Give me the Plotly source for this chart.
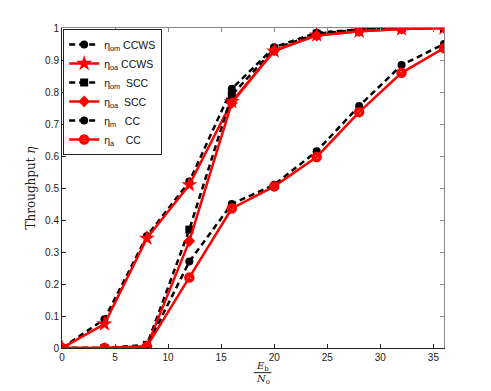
import plotly.graph_objects as go

snr = [0, 4, 8, 12, 16, 20, 24, 28, 32, 36]

ccws_om = [0, 0.09, 0.35, 0.52, 0.81, 0.94, 0.985, 0.995, 1.0, 1.0]
ccws_oa = [0, 0.075, 0.343, 0.51, 0.77, 0.928, 0.978, 0.99, 0.997, 1.0]
scc_om = [0, 0, 0.01, 0.37, 0.79, 0.935, 0.982, 0.995, 1.0, 1.0]
scc_oa = [0, 0, 0.005, 0.334, 0.766, 0.93, 0.976, 0.99, 0.997, 1.0]
cc_m = [0, 0, 0.005, 0.27, 0.45, 0.51, 0.615, 0.756, 0.884, 0.95]
cc_a = [0, 0, 0.005, 0.22, 0.436, 0.505, 0.597, 0.737, 0.86, 0.937]

names = [
    "η<sub>om</sub> CCWS",
    "η<sub>oa</sub> CCWS",
    "η<sub>om</sub>  SCC",
    "η<sub>oa</sub>  SCC",
    "η<sub>m</sub>   CC",
    "η<sub>a</sub>    CC",
]

BLACK = "#000000"
RED = "#ff0000"

styles = [
    (ccws_om, BLACK, "dash", "circle", 8),
    (ccws_oa, RED, "solid", "star", 12),
    (scc_om, BLACK, "dash", "square", 8),
    (scc_oa, RED, "solid", "diamond", 9),
    (cc_m, BLACK, "dash", "circle", 8),
    (cc_a, RED, "solid", "circle-open", 7),
]

fig = go.Figure()
for name, (vals, color, dash, symbol, size) in zip(names, styles):
    marker = dict(symbol=symbol, size=size, color=color)
    if symbol == "circle-open":
        marker["line"] = dict(color=color, width=3.5)
    fig.add_trace(go.Scatter(
        x=snr, y=vals, name=name, mode="lines+markers",
        line=dict(color=color, width=2.5, dash="6px,4px" if dash == "dash" else "solid"),
        marker=marker,
    ))

# top / right box edges with ticks (MATLAB style box)
fig.add_trace(go.Scatter(x=[None], y=[None], xaxis="x2", yaxis="y2", showlegend=False))

tick_font = dict(family="Liberation Sans, Arial, sans-serif", size=10, color="#222")

# the page body adds an 8px offset, so the figure is sized to fit the window
fig.update_layout(
    width=483,
    height=383,
    margin=dict(l=54, r=47, t=20, b=43),
    paper_bgcolor="white",
    plot_bgcolor="white",
    showlegend=True,
    legend=dict(
        x=0.003, y=0.997, xanchor="left", yanchor="top",
        bgcolor="white", bordercolor="#222", borderwidth=1,
        font=dict(family="Liberation Sans, Arial, sans-serif", size=10.5, color="#111"),
        tracegroupgap=0, itemwidth=30,
    ),
    xaxis=dict(
        range=[0, 36], tickvals=[0, 5, 10, 15, 20, 25, 30, 35],
        ticks="inside", ticklen=4, tickcolor="#222",
        showline=True, linecolor="#222", linewidth=1,
        showgrid=False, zeroline=False, tickfont=tick_font,
    ),
    yaxis=dict(
        range=[0, 1], tickvals=[0, 0.1, 0.2, 0.3, 0.4, 0.5, 0.6, 0.7, 0.8, 0.9, 1],
        ticktext=["0", "0.1", "0.2", "0.3", "0.4", "0.5", "0.6", "0.7", "0.8", "0.9", "1"],
        ticks="inside", ticklen=4, tickcolor="#222",
        showline=True, linecolor="#222", linewidth=1,
        showgrid=False, zeroline=False, tickfont=tick_font,
        title=dict(text="Throughput <i>η</i>",
                   font=dict(family="DejaVu Serif, Liberation Serif, serif", size=12, color="#222"),
                   standoff=6),
    ),
    xaxis2=dict(
        range=[0, 36], tickvals=[0, 5, 10, 15, 20, 25, 30, 35],
        overlaying="x", side="top", showticklabels=False,
        ticks="inside", ticklen=4, tickcolor="#888",
        showline=True, linecolor="#888", linewidth=1,
        showgrid=False, zeroline=False,
    ),
    yaxis2=dict(
        range=[0, 1], tickvals=[0, 0.1, 0.2, 0.3, 0.4, 0.5, 0.6, 0.7, 0.8, 0.9, 1],
        overlaying="y", side="right", showticklabels=False,
        ticks="inside", ticklen=4, tickcolor="#888",
        showline=True, linecolor="#888", linewidth=1,
        showgrid=False, zeroline=False,
    ),
)

# x-axis label as a stacked fraction E_b / N_o
serif = dict(family="DejaVu Serif, Liberation Serif, serif", size=10, color="#222")
fig.add_annotation(xref="paper", yref="paper", x=0.525, y=-0.058, yanchor="middle",
                   text="<i>E</i><sub>b</sub>", showarrow=False, font=serif)
fig.add_annotation(xref="paper", yref="paper", x=0.525, y=-0.097, yanchor="middle",
                   text="<i>N</i><sub>o</sub>", showarrow=False, font=serif)
fig.add_shape(type="line", xref="paper", yref="paper",
              x0=0.502, x1=0.548, y0=-0.077, y1=-0.077,
              line=dict(color="#222", width=1))

fig.write_html("out.html")
